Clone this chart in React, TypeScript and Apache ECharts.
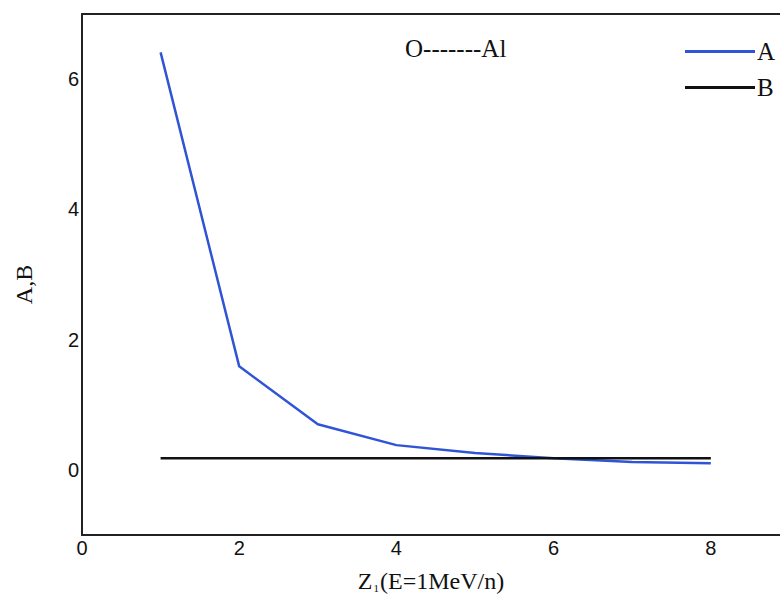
import React, { useEffect, useRef } from "react";
import * as echarts from "echarts";

const xValues = [1, 2, 3, 4, 5, 6, 7, 8];
const seriesA = [6.41, 1.59, 0.7, 0.38, 0.26, 0.18, 0.12, 0.1];
const seriesB = [0.18, 0.18, 0.18, 0.18, 0.18, 0.18, 0.18, 0.18];
const xTicks = [0, 2, 4, 6, 8];
const yTicks = [0, 2, 4, 6];

export default function App() {
  const ref = useRef<HTMLDivElement>(null);
  useEffect(() => {
    if (!ref.current) return;
    const chart = echarts.init(ref.current, null, { renderer: "svg" });
    const serif = "'Liberation Serif', 'Times New Roman', serif";
    const sans = "'Liberation Sans', Arial, sans-serif";
    const axisColor = "#222";
    chart.setOption({
      animation: false,
      backgroundColor: "#ffffff",
      title: {
        text: "O-------Al",
        left: 405,
        top: 36,
        padding: 0,
        textStyle: { fontFamily: serif, fontSize: 25, fontWeight: "normal", color: "#111" },
      },
      legend: {
        orient: "vertical",
        left: 685,
        top: 39,
        padding: 0,
        itemWidth: 70,
        itemHeight: 3,
        itemGap: 11,
        icon: "rect",
        textStyle: { fontFamily: serif, fontSize: 25, lineHeight: 25, color: "#111", padding: [0, 0, 0, -3] },
        data: ["A", "B"],
      },
      grid: {
        left: 82,
        right: 0,
        top: 14,
        bottom: 60,
      },
      xAxis: [
        {
          type: "value",
          min: 0,
          max: 8.88,
          interval: 2,
          axisLine: { show: true, onZero: false, lineStyle: { color: axisColor, width: 2 } },
          axisTick: { show: false },
          splitLine: { show: false },
          axisLabel: {
            fontFamily: sans,
            fontSize: 20,
            color: "#111",
            margin: 3,
            showMaxLabel: false,
            formatter: (v: number) => (xTicks.includes(v) ? String(v) : ""),
          },
          name: "{z|Z}{s|1}{z|(E=1MeV/n)}",
          nameLocation: "middle",
          nameGap: 34,
          nameTextStyle: {
            rich: {
              z: { fontFamily: serif, fontSize: 24, color: "#111" },
              s: { fontFamily: serif, fontSize: 11, color: "#111", verticalAlign: "bottom", padding: [12, 1, 0, 1] },
            },
          },
        },
        {
          type: "value",
          position: "top",
          min: 0,
          max: 8.88,
          axisLine: { show: true, onZero: false, lineStyle: { color: axisColor, width: 2 } },
          axisTick: { show: false },
          axisLabel: { show: false },
          splitLine: { show: false },
        },
      ],
      yAxis: {
        type: "value",
        min: -1,
        max: 7,
        interval: 1,
        axisLine: { show: true, onZero: false, lineStyle: { color: axisColor, width: 2 } },
        axisTick: { show: false },
        splitLine: { show: false },
        axisLabel: {
          fontFamily: sans,
          fontSize: 20,
          color: "#111",
          margin: 3,
          formatter: (v: number) => (yTicks.includes(v) ? String(v) : ""),
        },
        name: "A,B",
        nameLocation: "middle",
        nameGap: 46,
        nameTextStyle: { fontFamily: serif, fontSize: 24, color: "#111", padding: [0, 20, 0, 0] },
      },
      series: [
        {
          name: "A",
          type: "line",
          data: xValues.map((x, i) => [x, seriesA[i]]),
          showSymbol: false,
          symbol: "none",
          itemStyle: { color: "#2f55d6" },
          lineStyle: { color: "#2f55d6", width: 2.5 },
        },
        {
          name: "B",
          type: "line",
          data: xValues.map((x, i) => [x, seriesB[i]]),
          showSymbol: false,
          symbol: "none",
          itemStyle: { color: "#111" },
          lineStyle: { color: "#111", width: 2.5 },
        },
      ],
    });
    return () => chart.dispose();
  }, []);
  return <div ref={ref} style={{ position: "fixed", left: 0, top: 0, width: 780, height: 598 }} />;
}
